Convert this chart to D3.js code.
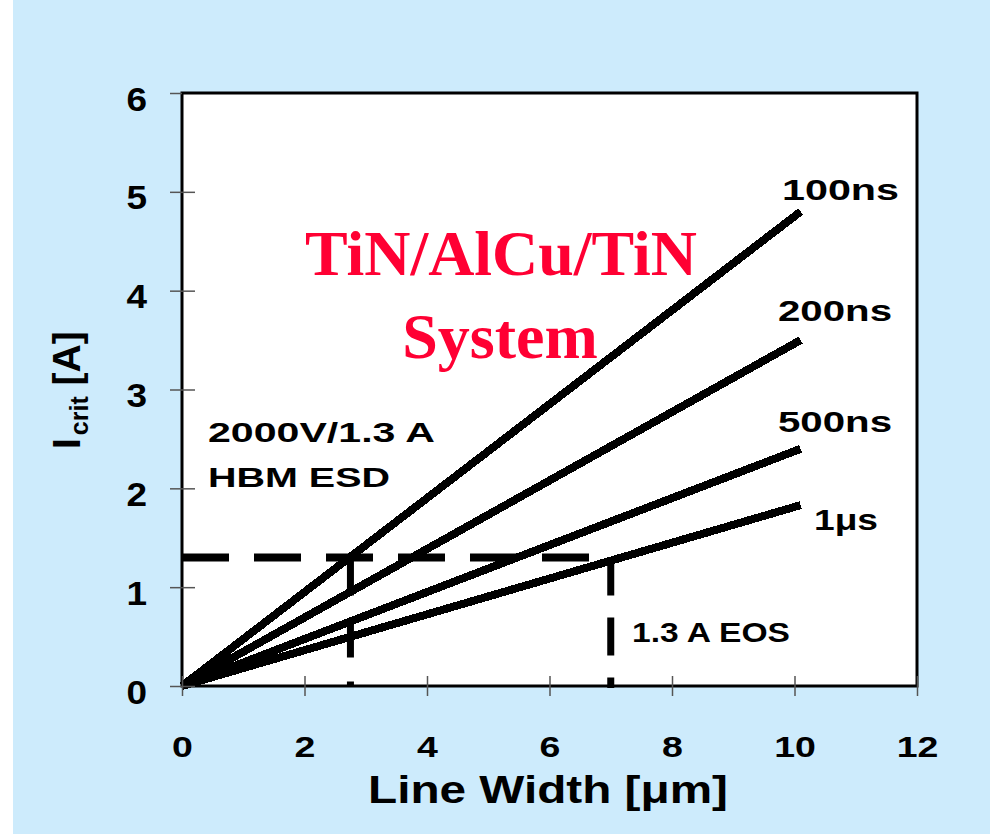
<!DOCTYPE html>
<html>
<head>
<meta charset="utf-8">
<script src="https://cdn.jsdelivr.net/npm/d3@7"></script>
<style>
  html, body { margin: 0; padding: 0; background: #ffffff; }
  svg { display: block; }
  text { font-family: "Liberation Sans", Arial, sans-serif; font-weight: bold; fill: #000; }
</style>
</head>
<body>
<svg id="chart" width="990" height="834"></svg>
<script>
// Critical current vs. line width for a TiN/AlCu/TiN metal stack
const xTickValues = [0, 2, 4, 6, 8, 10, 12];
const yTickValues = [0, 1, 2, 3, 4, 5, 6];

const seriesNames = ["100ns", "200ns", "500ns", "1\u03bcs"];
const lineWidthUm = [0, 10.1];
const icrit100ns = [0, 4.8];
const icrit200ns = [0, 3.5];
const icrit500ns = [0, 2.4];
const icrit1us   = [0, 1.83];

// Reference levels: 1.3 A for HBM ESD (2000 V) and for EOS
const hbmCurrent = 1.3;
const hbmWidth = 2.75;
const eosCurrent = 1.3;
const eosWidth = 7.0;

const svg = d3.select("#chart");
const W = 990, H = 834;

// page background
svg.append("rect").attr("x", 13).attr("y", 0).attr("width", W - 13).attr("height", H)
  .attr("fill", "#cdebfc");

const plot = { left: 182, top: 93, right: 917, bottom: 686 };
const x = d3.scaleLinear().domain([0, 12]).range([plot.left, plot.right]);
const y = d3.scaleLinear().domain([0, 6]).range([plot.bottom, plot.top]);

svg.append("rect")
  .attr("x", plot.left).attr("y", plot.top)
  .attr("width", plot.right - plot.left).attr("height", plot.bottom - plot.top)
  .attr("fill", "#ffffff");

// series lines
const seriesValues = [icrit100ns, icrit200ns, icrit500ns, icrit1us];
const line = d3.line().x(d => x(d[0])).y(d => y(d[1]));
const seriesData = seriesValues.map(vals => lineWidthUm.map((w, i) => [w, vals[i]]));

svg.append("g").selectAll("path").data(seriesData).join("path")
  .attr("d", line)
  .attr("fill", "none")
  .attr("stroke", "#000")
  .attr("stroke-width", 8)
  .attr("stroke-linecap", "butt")
  .attr("shape-rendering", "crispEdges");

// dashed guide lines
const guides = svg.append("g").attr("fill", "none").attr("stroke", "#000")
  .attr("stroke-linecap", "butt");
guides.append("line")
  .attr("x1", x(0)).attr("y1", y(hbmCurrent))
  .attr("x2", x(eosWidth)).attr("y2", y(hbmCurrent))
  .attr("stroke-width", 8).attr("stroke-dasharray", "47,25");
guides.append("line")
  .attr("x1", x(hbmWidth)).attr("y1", y(hbmCurrent))
  .attr("x2", x(hbmWidth)).attr("y2", y(0) + 1)
  .attr("stroke-width", 7).attr("stroke-dasharray", "38,24");
guides.append("line")
  .attr("x1", x(eosWidth)).attr("y1", y(eosCurrent))
  .attr("x2", x(eosWidth)).attr("y2", y(0) + 2)
  .attr("stroke-width", 7).attr("stroke-dasharray", "38,22");

// frame
svg.append("rect")
  .attr("x", plot.left).attr("y", plot.top)
  .attr("width", plot.right - plot.left).attr("height", plot.bottom - plot.top)
  .attr("fill", "none").attr("stroke", "#000").attr("stroke-width", 3);

// axes
const xAxis = svg.append("g")
  .attr("transform", `translate(0,${plot.bottom})`)
  .call(d3.axisBottom(x).tickValues(xTickValues).tickSize(10).tickSizeOuter(0).tickFormat(d3.format("d")));
xAxis.select(".domain").remove();
xAxis.selectAll(".tick line").attr("y1", -10).attr("y2", 10)
  .attr("stroke", "#555").attr("stroke-width", 1.5);
xAxis.selectAll(".tick text")
  .attr("y", 71).attr("dy", 0)
  .attr("font-size", 30)
  .attr("transform", "scale(1.25,1)");

const yAxis = svg.append("g")
  .attr("transform", `translate(${plot.left},0)`)
  .call(d3.axisLeft(y).tickValues(yTickValues).tickSize(12).tickSizeOuter(0).tickFormat(d3.format("d")));
yAxis.select(".domain").remove();
yAxis.selectAll(".tick line").attr("x1", d => d === 6 ? 0 : 13).attr("x2", -12)
  .attr("stroke", "#555").attr("stroke-width", 1.5);
yAxis.selectAll(".tick text")
  .attr("x", -35 / 1.12).attr("y", 17).attr("dy", 0)
  .attr("font-size", 33)
  .attr("transform", "scale(1.12,1)");

// axis titles
svg.append("text")
  .attr("x", 548).attr("y", 803)
  .attr("text-anchor", "middle")
  .attr("font-size", 39)
  .attr("textLength", 360).attr("lengthAdjust", "spacingAndGlyphs")
  .text("Line Width [\u03bcm]");

const yTitle = svg.append("text")
  .attr("transform", "translate(80,449) rotate(-90)")
  .attr("font-size", 39);
yTitle.append("tspan").text("I");
yTitle.append("tspan").attr("font-size", 25).attr("dx", 3).attr("dy", 8).text("crit");
yTitle.append("tspan").attr("dy", -8).text(" [A]");

// series labels
const labelLayout = [
  { x: 782, y: 200, len: 117 },
  { x: 778, y: 321, len: 114 },
  { x: 778, y: 432, len: 114 },
  { x: 814, y: 530, len: 64 }
];
svg.append("g").selectAll("text").data(seriesNames).join("text")
  .attr("x", (d, i) => labelLayout[i].x)
  .attr("y", (d, i) => labelLayout[i].y)
  .attr("font-size", 29)
  .attr("textLength", (d, i) => labelLayout[i].len)
  .attr("lengthAdjust", "spacingAndGlyphs")
  .text(d => d);

// annotations
svg.append("text").attr("x", 208).attr("y", 442).attr("font-size", 28)
  .attr("textLength", 227).attr("lengthAdjust", "spacingAndGlyphs")
  .text("2000V/1.3 A");
svg.append("text").attr("x", 208).attr("y", 487).attr("font-size", 28)
  .attr("textLength", 182).attr("lengthAdjust", "spacingAndGlyphs")
  .text("HBM ESD");
svg.append("text").attr("x", 632).attr("y", 642).attr("font-size", 28)
  .attr("textLength", 158).attr("lengthAdjust", "spacingAndGlyphs")
  .text("1.3 A EOS");

// red stack title
const serif = "'Liberation Serif', 'Times New Roman', serif";
svg.append("text").attr("x", 501).attr("y", 275)
  .attr("text-anchor", "middle").attr("font-size", 64)
  .style("font-family", serif)
  .style("fill", "#ff0033")
  .attr("textLength", 392).attr("lengthAdjust", "spacingAndGlyphs")
  .text("TiN/AlCu/TiN");
svg.append("text").attr("x", 500).attr("y", 358)
  .attr("text-anchor", "middle").attr("font-size", 64)
  .style("font-family", serif)
  .style("fill", "#ff0033")
  .text("System");
</script>
</body>
</html>
